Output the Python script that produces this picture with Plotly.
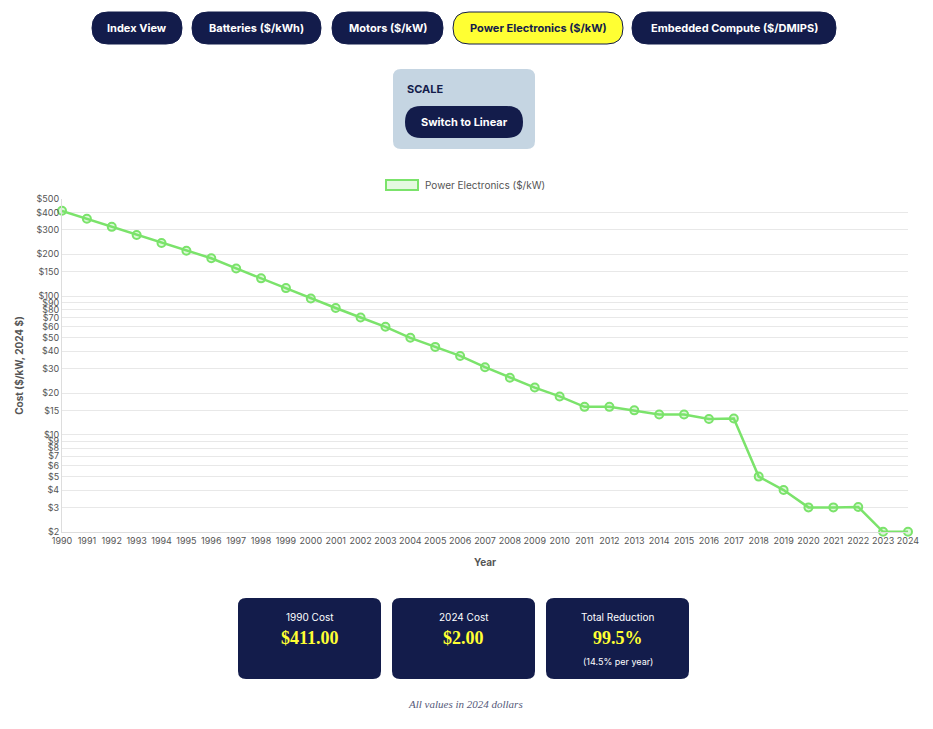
import plotly.graph_objects as go

years = list(range(1990, 2025))
costs = [411, 360, 315, 275, 241, 212, 187, 158, 134, 114, 96, 82, 70, 60, 50, 43, 37,
         30.7, 25.8, 21.9, 18.9, 15.9, 15.9, 15, 14, 14, 13, 13.1, 5, 4, 3, 3, 3.02, 2, 2]
ytick_vals = [2, 3, 4, 5, 6, 7, 8, 9, 10, 15, 20, 30, 40, 50, 60, 70, 80, 90, 100, 150, 200, 300, 400, 500]
ytick_text = ["$" + str(v) for v in ytick_vals]
nav_labels = ["Index View", "Batteries ($/kWh)", "Motors ($/kW)", "Power Electronics ($/kW)", "Embedded Compute ($/DMIPS)"]
nav_x = [(92, 182), (192, 321), (332, 443), (453, 623), (632, 836)]
stat_labels = ["1990 Cost", "2024 Cost", "Total Reduction"]
stat_values = ["$411.00", "$2.00", "99.5%"]

OFF = 8  # page body margin
W, H = 933 - 2 * OFF, 729 - 2 * OFF
L, R, T, B = 62, 908, 199, 532
NAVY = "#131c4b"
GREEN = "#7be36b"
FONT = "Inter"

def px(x):
    return (x - L) / (R - L)

def py(y):
    return (B - y) / (B - T)

def rrect(x0, y0, x1, y1, r):
    d = f"M {px(x0 + r)},{py(y0)} L {px(x1 - r)},{py(y0)} Q {px(x1)},{py(y0)} {px(x1)},{py(y0 + r)} "
    d += f"L {px(x1)},{py(y1 - r)} Q {px(x1)},{py(y1)} {px(x1 - r)},{py(y1)} "
    d += f"L {px(x0 + r)},{py(y1)} Q {px(x0)},{py(y1)} {px(x0)},{py(y1 - r)} "
    d += f"L {px(x0)},{py(y0 + r)} Q {px(x0)},{py(y0)} {px(x0 + r)},{py(y0)} Z"
    return d

fig = go.Figure()
fig.add_trace(go.Scatter(
    x=years, y=costs, mode="lines+markers", cliponaxis=False,
    line=dict(color=GREEN, width=2.5),
    marker=dict(size=8, color="rgba(123,227,107,0.25)", line=dict(color=GREEN, width=2)),
    showlegend=False, hoverinfo="x+y"))

shapes = []
ann = []

def text(x, y, s, size, color, bold=False, family=FONT, xanchor="center", italic=False):
    if bold:
        s = "<b>" + s + "</b>"
    if italic:
        s = "<i>" + s + "</i>"
    ann.append(dict(x=px(x), y=py(y), xref="paper", yref="paper", text=s, showarrow=False,
                    xanchor=xanchor, yanchor="middle", font=dict(size=size, color=color, family=family)))

for lab, (x0, x1) in zip(nav_labels, nav_x):
    active = lab.startswith("Power")
    shapes.append(dict(type="path", path=rrect(x0, 12, x1, 44, 16), xref="paper", yref="paper",
                       fillcolor="#ffff33" if active else NAVY,
                       line=dict(color=NAVY, width=1)))
    text((x0 + x1) / 2, 28, lab, 11, NAVY if active else "white", bold=True)

shapes.append(dict(type="path", path=rrect(393, 69, 535, 149, 8), xref="paper", yref="paper",
                   fillcolor="#c5d5e2", line=dict(width=0)))
text(405, 89, "SCALE", 11, NAVY, bold=True, xanchor="left")
shapes.append(dict(type="path", path=rrect(405, 106, 523, 138, 16), xref="paper", yref="paper",
                   fillcolor=NAVY, line=dict(width=0)))
text(464, 122, "Switch to Linear", 11, "white", bold=True)

shapes.append(dict(type="rect", x0=px(386), x1=px(418), y0=py(190), y1=py(180), xref="paper", yref="paper",
                   fillcolor="rgba(123,227,107,0.2)", line=dict(color=GREEN, width=2)))
text(423, 185, "Power Electronics ($/kW)", 10, "#555", xanchor="left")

for i, (lab, val) in enumerate(zip(stat_labels, stat_values)):
    x0 = 238 + i * 154
    x1 = x0 + 143
    shapes.append(dict(type="path", path=rrect(x0, 598, x1, 679, 8), xref="paper", yref="paper",
                       fillcolor=NAVY, line=dict(width=0)))
    text((x0 + x1) / 2, 617, lab, 10, "white")
    text((x0 + x1) / 2, 638, val, 18, "#ffff33", bold=True, family="Liberation Serif")
text(546 + 71.5, 661, "(14.5% per year)", 9, "white")
text(465, 704, "All values in 2024 dollars", 11, "#555a7a", family="Liberation Serif", italic=True)

fig.update_layout(
    width=W, height=H, margin=dict(l=L - OFF, r=W - (R - OFF), t=T - OFF, b=H - (B - OFF), autoexpand=False),
    paper_bgcolor="white", plot_bgcolor="white",
    font=dict(family=FONT, color="#555"),
    shapes=shapes, annotations=ann,
    xaxis=dict(range=[1990, 2024], tickvals=years, ticktext=[str(y) for y in years], tickangle=0,
               automargin=False,
               tickfont=dict(size=9, color="#555"), showgrid=False, showline=True, linecolor="#ddd",
               ticks="", title=dict(text="<b>Year</b>", font=dict(size=10, color="#555"), standoff=14)),
    yaxis=dict(type="log", range=[0.2998, 2.69897], tickvals=ytick_vals, ticktext=ytick_text,
               automargin=False,
               tickfont=dict(size=9, color="#555"), gridcolor="#e8e8e8", showline=True, linecolor="#ddd",
               ticks="", title=dict(text="<b>Cost ($/kW, 2024 $)</b>", font=dict(size=10, color="#555"), standoff=10)),
)
fig.write_html("out.html")
